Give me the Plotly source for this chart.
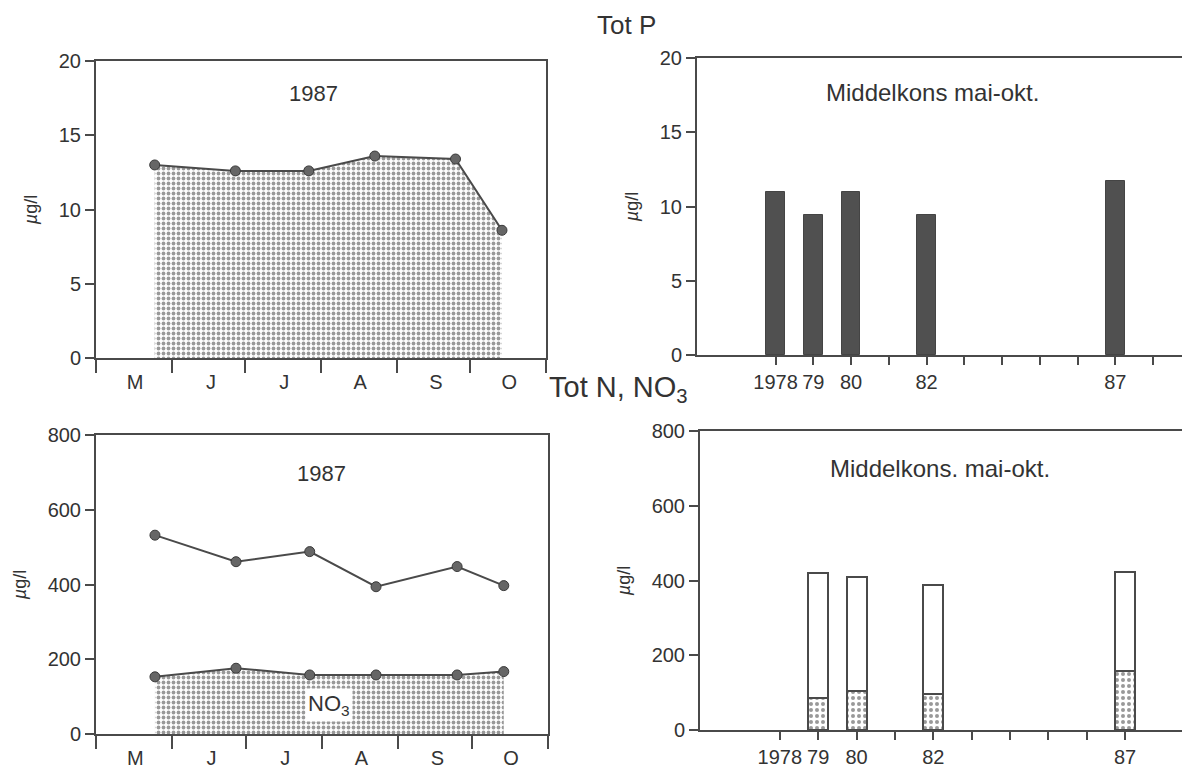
import plotly.graph_objects as go

# ---------------- data ----------------
sample_dates = ["1987-05-25", "1987-06-27", "1987-07-27", "1987-08-23", "1987-09-25", "1987-10-14"]
tot_p_1987 = [13.0, 12.6, 12.6, 13.6, 13.4, 8.6]
tot_n_1987 = [532, 461, 488, 394, 448, 397]
no3_1987 = [153, 176, 158, 158, 158, 167]

month_labels = ["M", "J", "J", "A", "S", "O"]
month_label_pos = ["1987-05-17", "1987-06-17", "1987-07-17", "1987-08-17", "1987-09-17", "1987-10-17"]
month_bounds = ["1987-05-01", "1987-06-01", "1987-07-01", "1987-08-01", "1987-09-01", "1987-10-01", "1987-11-01"]

years_p = [1978, 1979, 1980, 1982, 1987]
mean_tot_p = [11.0, 9.45, 11.0, 9.4, 11.7]

years_n = [1979, 1980, 1982, 1987]
mean_tot_n = [420, 410, 387, 422]
mean_no3 = [86, 105, 97, 158]

year_ticks_top = list(range(1978, 1989))
year_ticks_bottom = list(range(1978, 1988))
labelled_years = [1978, 1979, 1980, 1982, 1987]
labelled_year_text = ["1978", "79", "80", "82", "87"]

# ---------------- style ----------------
W, H = 1190, 768
OFF = 8  # page body margin: figure starts 8 px in from the window corner
INK = "#4a4a4a"
TXT = "#333333"
FONT = "Liberation Sans"


def px_x(p):
    return (p - OFF) / W


def px_y(p):
    return 1 - (p - OFF) / H


def dom_x(a, b):
    return [px_x(a), min(1.0, px_x(b))]


def dom_y(top, bottom):
    return [px_y(bottom), px_y(top)]


stipple = dict(shape=".", fgcolor="#333", bgcolor="white", size=5, solidity=0.45)
stipple_bar = dict(shape=".", fgcolor="#333", bgcolor="white", size=6, solidity=0.35)

fig = go.Figure()

mk = dict(size=10, color="#666", line=dict(color="#3a3a3a", width=1))

# Panel 1: Tot P 1987
fig.add_trace(go.Scatter(
    x=sample_dates, y=tot_p_1987, mode="lines+markers", fill="tozeroy",
    fillpattern=stipple, fillcolor="white",
    line=dict(color=INK, width=2), marker=mk,
    xaxis="x", yaxis="y", showlegend=False, name="Tot P"))

# Panel 2: mean Tot P
fig.add_trace(go.Bar(
    x=years_p, y=mean_tot_p, width=0.5,
    marker=dict(color="#505050", line=dict(color="#444", width=1)),
    xaxis="x2", yaxis="y2", showlegend=False, name="Tot P mean"))

# Panel 3: Tot N and NO3 1987
fig.add_trace(go.Scatter(
    x=sample_dates, y=no3_1987, mode="lines+markers", fill="tozeroy",
    fillpattern=stipple, fillcolor="white",
    line=dict(color=INK, width=2), marker=mk,
    xaxis="x3", yaxis="y3", showlegend=False, name="NO3"))
fig.add_trace(go.Scatter(
    x=sample_dates, y=tot_n_1987, mode="lines+markers",
    line=dict(color=INK, width=2), marker=mk,
    xaxis="x3", yaxis="y3", showlegend=False, name="Tot N"))

# Panel 4: mean Tot N (white) with NO3 (stippled)
fig.add_trace(go.Bar(
    x=years_n, y=mean_tot_n, width=0.52,
    marker=dict(color="white", line=dict(color=INK, width=2)),
    xaxis="x4", yaxis="y4", showlegend=False, name="Tot N mean"))
fig.add_trace(go.Bar(
    x=years_n, y=mean_no3, width=0.52,
    marker=dict(color="white", pattern=stipple_bar, line=dict(color=INK, width=2)),
    xaxis="x4", yaxis="y4", showlegend=False, name="NO3 mean"))

tickfont = dict(family=FONT, size=20, color=TXT)
ytitle = dict(text="<i>µ</i>g/l", font=dict(family=FONT, size=18, color=TXT), standoff=16)

common_line = dict(showline=True, linecolor=INK, linewidth=2, showgrid=False, zeroline=False,
                   tickfont=tickfont, tickcolor=INK, tickwidth=2, automargin=False)

month_axis = dict(
    type="date", range=["1987-05-01", "1987-11-01"],
    tickmode="array", tickvals=month_label_pos, ticktext=month_labels,
    ticks="outside", ticklen=5, tickcolor="rgba(0,0,0,0)",
    minor=dict(tickmode="array", tickvals=month_bounds, ticks="outside", ticklen=13,
               tickcolor=INK, tickwidth=2),
    mirror=True,
)


def year_axis(ticks):
    return dict(
        range=[1975.92, 1988.9],
        tickmode="array", tickvals=labelled_years, ticktext=labelled_year_text,
        ticks="outside", ticklen=8,
        minor=dict(tickmode="array", tickvals=ticks, ticks="outside", ticklen=8,
                   tickcolor=INK, tickwidth=2),
    )


def ax(**kw):
    d = dict(common_line)
    d.update(kw)
    return d


def yax(top, bottom, anchor, rng, vals, mirror=True):
    return ax(domain=dom_y(top, bottom), anchor=anchor, range=rng,
              tickmode="array", tickvals=vals, ticks="outside", ticklen=9,
              mirror=mirror, title=ytitle)


fig.update_layout(
    width=W, height=H,
    margin=dict(l=0, r=0, t=0, b=0, pad=0, autoexpand=False),
    paper_bgcolor="white", plot_bgcolor="white",
    barmode="overlay", bargap=0,
    font=dict(family=FONT, color=TXT),
    xaxis=ax(domain=dom_x(96, 546), anchor="y", **month_axis),
    yaxis=yax(61, 358, "x", [0, 20], [0, 5, 10, 15, 20]),
    xaxis2=ax(domain=dom_x(697, 1187), anchor="y2", mirror=True, **year_axis(year_ticks_top)),
    yaxis2=yax(58, 355, "x2", [0, 20], [0, 5, 10, 15, 20]),
    xaxis3=ax(domain=dom_x(96, 548), anchor="y3", **month_axis),
    yaxis3=yax(435, 734, "x3", [0, 800], [0, 200, 400, 600, 800]),
    xaxis4=ax(domain=dom_x(700, 1200), anchor="y4", mirror=True, **year_axis(year_ticks_bottom)),
    yaxis4=yax(431, 730, "x4", [0, 800], [0, 200, 400, 600, 800], mirror=False),
)


def note(text, x, y, size=22, bg=None, pad=2):
    fig.add_annotation(text=text, x=px_x(x), y=px_y(y), xref="paper", yref="paper",
                       xanchor="center", yanchor="middle",
                       showarrow=False, font=dict(family=FONT, size=size, color=TXT),
                       bgcolor=bg, borderpad=pad)


note("Tot P", 626, 25, size=26, pad=0)
note("Tot N, NO<sub>3</sub>", 618, 389, size=29, pad=0)
note("1987", 314, 93)
note("Middelkons mai-okt.", 932, 92, size=24)
note("1987", 321, 473)
note("Middelkons. mai-okt.", 940, 468, size=24)
note("NO<sub>3</sub>", 329, 705, size=22, bg="white")

fig.write_html("out.html")
